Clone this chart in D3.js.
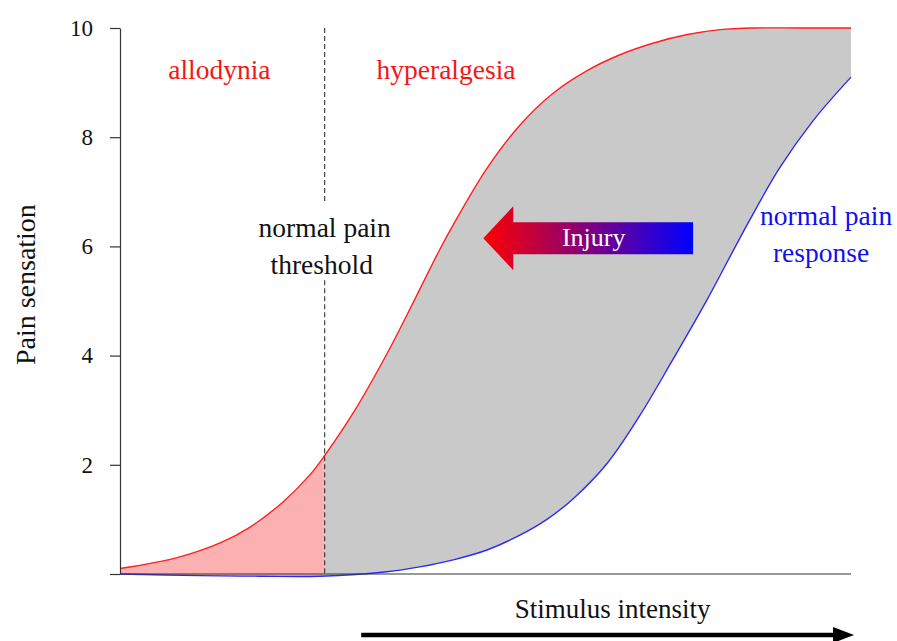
<!DOCTYPE html>
<html>
<head>
<meta charset="utf-8">
<script src="https://cdn.jsdelivr.net/npm/d3@7"></script>
<style>
  body { margin: 0; background: #fff; }
  text { font-family: "Liberation Serif", "Times New Roman", serif; }
</style>
</head>
<body>
<svg width="897" height="641"></svg>
<script>
// hyperalgesia curve (after injury)
var injuredX = [0, 0.78, 1.37, 1.78, 2.23, 2.60, 2.80, 3.19, 3.65, 4.01, 4.35, 4.56, 5.02, 5.47, 5.92, 6.39, 6.84, 7.29, 7.76, 8.21, 8.66, 9.30, 10];
var injuredY = [0.10, 0.30, 0.57, 0.86, 1.32, 1.82, 2.17, 2.95, 4.03, 4.97, 5.88, 6.40, 7.43, 8.22, 8.80, 9.22, 9.51, 9.72, 9.88, 9.97, 10, 10, 10];

// normal pain response curve
var normalX = [0, 1.09, 1.92, 2.74, 3.65, 4.10, 4.56, 5.02, 5.47, 5.84, 6.20, 6.66, 7.11, 7.56, 8.03, 8.58, 9.03, 9.48, 10];
var normalY = [0, -0.03, -0.04, -0.04, 0.04, 0.13, 0.26, 0.44, 0.71, 1.00, 1.38, 2.02, 2.90, 3.92, 5.02, 6.40, 7.45, 8.30, 9.10];

var yTicks = [0, 2, 4, 6, 8, 10];
var threshold = 2.8;

var svg = d3.select("svg"),
    margin = {top: 28, right: 46, bottom: 67, left: 120},
    width = +svg.attr("width") - margin.left - margin.right,
    height = +svg.attr("height") - margin.top - margin.bottom,
    g = svg.append("g").attr("transform", "translate(" + margin.left + "," + margin.top + ")");

var x = d3.scaleLinear().domain([0, 10]).range([0, width]);
var y = d3.scaleLinear().domain([0, 10]).range([height, 0]);

var injured = injuredX.map(function(d, i) { return [d, injuredY[i]]; });
var normal = normalX.map(function(d, i) { return [d, normalY[i]]; });

var curve = d3.curveCatmullRom.alpha(0.5);

var line = d3.line()
    .x(function(d) { return x(d[0]); })
    .y(function(d) { return y(d[1]); })
    .curve(curve);

var defs = svg.append("defs");

// everything above the normal curve
defs.append("clipPath").attr("id", "above-normal")
  .append("path")
    .attr("d", d3.area()
      .x(function(d) { return x(d[0]); })
      .y0(-20)
      .y1(function(d) { return y(d[1]); })
      .curve(curve)(normal));

defs.append("clipPath").attr("id", "left-side")
  .append("rect")
    .attr("x", -5).attr("y", -20)
    .attr("width", x(threshold) + 5).attr("height", height + 40);

defs.append("clipPath").attr("id", "right-side")
  .append("rect")
    .attr("x", x(threshold)).attr("y", -20)
    .attr("width", width - x(threshold)).attr("height", height + 40);

var grad = defs.append("linearGradient")
    .attr("id", "injury-grad")
    .attr("gradientUnits", "userSpaceOnUse")
    .attr("x1", x(4.97)).attr("x2", x(7.84))
    .attr("y1", 0).attr("y2", 0);
grad.append("stop").attr("offset", "0%").attr("stop-color", "#ff0000");
grad.append("stop").attr("offset", "100%").attr("stop-color", "#0000ff");

var underInjured = d3.area()
    .x(function(d) { return x(d[0]); })
    .y0(y(-0.5))
    .y1(function(d) { return y(d[1]); })
    .curve(curve);

var band = g.append("g").attr("clip-path", "url(#above-normal)");

band.append("g").attr("clip-path", "url(#left-side)")
  .append("path")
    .attr("d", underInjured(injured))
    .attr("fill", "#fbb1b1");

band.append("g").attr("clip-path", "url(#right-side)")
  .append("path")
    .attr("d", underInjured(injured))
    .attr("fill", "#c9c9c9");

// threshold (dashed, broken around its label)
[[10, 6.79], [5.38, 0]].forEach(function(seg) {
  g.append("line")
    .attr("x1", x(threshold)).attr("x2", x(threshold))
    .attr("y1", y(seg[0])).attr("y2", y(seg[1]))
    .attr("stroke", "#333")
    .attr("stroke-width", 1.1)
    .attr("stroke-dasharray", "5 3");
});

// curves
g.append("path")
    .attr("d", line(normal))
    .attr("fill", "none")
    .attr("stroke", "#2a2aff")
    .attr("stroke-width", 1.4);

g.append("path")
    .attr("d", line(injured))
    .attr("fill", "none")
    .attr("stroke", "#ff2020")
    .attr("stroke-width", 1.4);

// axes
var yAxis = g.append("g")
    .call(d3.axisLeft(y)
      .tickValues(yTicks)
      .tickFormat(function(d) { return d === 0 ? "" : d; })
      .tickSize(10)
      .tickSizeOuter(0)
      .tickPadding(17));
yAxis.selectAll("path, line").attr("stroke", "#333").attr("stroke-width", 1.2);
yAxis.selectAll("text")
    .attr("fill", "#111")
    .style("font-family", "'Liberation Serif', serif")
    .style("font-size", "23px");

g.append("line")
    .attr("x1", x(0)).attr("x2", x(10))
    .attr("y1", y(0)).attr("y2", y(0))
    .attr("stroke", "#333")
    .attr("stroke-width", 1.2);

// axis titles
g.append("text")
    .attr("transform", "translate(" + (25 - margin.left) + "," + y(5.3) + ")rotate(-90)")
    .attr("text-anchor", "middle")
    .attr("dy", "0.35em")
    .style("font-size", "28px")
    .attr("fill", "#111")
    .text("Pain sensation");

g.append("text")
    .attr("x", x(6.74))
    .attr("y", height + 44)
    .attr("text-anchor", "middle")
    .style("font-size", "27px")
    .attr("fill", "#111")
    .text("Stimulus intensity");

// stimulus arrow
var arrowY = height + 61;
g.append("line")
    .attr("x1", x(3.30)).attr("x2", x(10) - 14)
    .attr("y1", arrowY).attr("y2", arrowY)
    .attr("stroke", "#000")
    .attr("stroke-width", 4.5);
g.append("path")
    .attr("d", "M" + (x(10) + 3) + "," + arrowY + "L" + (x(10) - 18) + "," + (arrowY - 8) + "L" + (x(10) - 18) + "," + (arrowY + 8) + "Z")
    .attr("fill", "#000");

// region labels
var labels = [
  {t: "allodynia", x: 1.36, y: 9.07, c: "#f01818"},
  {t: "hyperalgesia", x: 4.46, y: 9.07, c: "#f01818"},
  {t: "normal pain", x: 2.80, y: 6.17, c: "#111"},
  {t: "threshold", x: 2.76, y: 5.49, c: "#111"},
  {t: "normal pain", x: 9.66, y: 6.39, c: "#1010ee"},
  {t: "response", x: 9.59, y: 5.71, c: "#1010ee"}
];
g.selectAll(".lbl")
  .data(labels)
  .enter().append("text")
    .attr("class", "lbl")
    .attr("x", function(d) { return x(d.x); })
    .attr("y", function(d) { return y(d.y); })
    .attr("text-anchor", "middle")
    .attr("fill", function(d) { return d.c; })
    .style("font-size", "27.5px")
    .text(function(d) { return d.t; });

// injury arrow
var tipX = 4.97, headX = 5.38, tailX = 7.84, midY = 6.15;
var body = 16, head = 32;
var ym = y(midY);
g.append("path")
    .attr("d", "M" + x(tipX) + "," + ym +
               "L" + x(headX) + "," + (ym - head) +
               "L" + x(headX) + "," + (ym - body) +
               "L" + x(tailX) + "," + (ym - body) +
               "L" + x(tailX) + "," + (ym + body) +
               "L" + x(headX) + "," + (ym + body) +
               "L" + x(headX) + "," + (ym + head) + "Z")
    .attr("fill", "url(#injury-grad)");

g.append("text")
    .attr("x", x(6.48))
    .attr("y", ym + 8)
    .attr("text-anchor", "middle")
    .attr("fill", "#fff")
    .style("font-size", "26px")
    .text("Injury");
</script>
</body>
</html>
